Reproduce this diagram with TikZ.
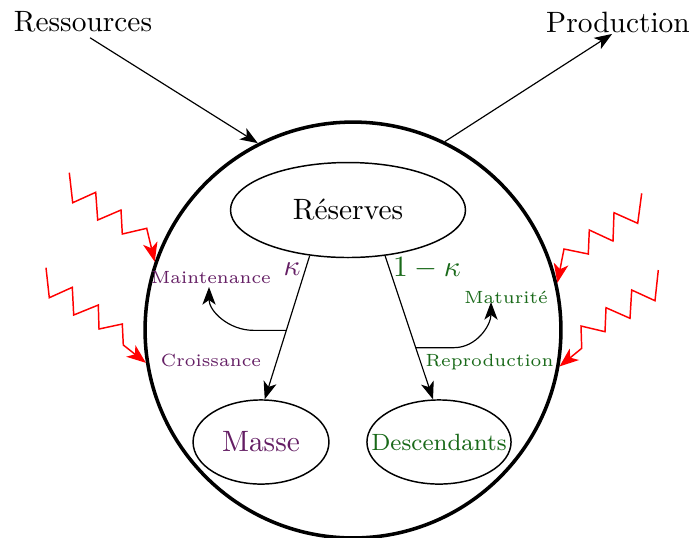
\documentclass[tikz,border=0pt]{standalone}
\usetikzlibrary{arrows.meta,calc,shapes.geometric}
\definecolor{kpurple}{RGB}{100,30,100}
\definecolor{kgreen}{RGB}{25,105,25}
\tikzset{
  flow/.style={line width=0.4pt,-{Stealth[length=6pt,width=4.5pt,inset=1.6pt]}},
  zig/.style={red,line width=0.5pt,-{Stealth[length=6.5pt,width=5pt,inset=1.8pt]}},
  compart/.style={draw,ellipse,line width=0.5pt,inner sep=0pt},
  tinylab/.style={font=\fontsize{6}{7}\selectfont,anchor=base,inner sep=0pt},
}
\begin{document}
\begin{tikzpicture}[x=0.34pt,y=-0.34pt]
\useasboundingbox (0,0) rectangle (690,537);
% organism
\node[draw,circle,line width=1.2pt,minimum size=141.4pt,inner sep=0pt] (cell) at (353,330) {};
\node[compart,minimum width=79.9pt,minimum height=32.3pt,
      label={center:Réserves}] (res) at (348,210) {};
\node[compart,minimum width=46.2pt,minimum height=28.6pt,
      label={[text=kpurple]center:Masse}] (masse) at (261,442) {};
\node[compart,minimum width=49pt,minimum height=28.6pt,
      label={[text=kgreen,font=\footnotesize]center:Descendants}] (desc) at (439,442) {};
% external
\node (ress) at (83,22) {Ressources};
\node (prod) at (618,22) {Production};
\draw[flow] ([xshift=2.4pt,yshift=1.7pt]ress.south) -- (cell.117);
\draw[flow] (cell.64) -- ([xshift=-2pt,yshift=3pt]prod.south);
% kappa rule
\draw[flow] (res.230) -- (masse.85);
\draw[flow] (res.309) -- (desc.98);
\coordinate (m1) at ($(res.230)!0.52!(masse.85)$);
\coordinate (m2) at ($(res.309)!0.64!(desc.98)$);
\coordinate (maintip) at (209,287);
\coordinate (matip) at (491,302);
\draw[flow] (m1) -- ++(-33,0) to[out=180,in=-90] (maintip);
\draw[flow] (m2) -- ++(38,0) to[out=0,in=-90] (matip);
% labels
\node[anchor=base,inner sep=0pt,text=kpurple] (kap) at (292,275) {$\kappa$};
\node[anchor=base,inner sep=0pt,text=kgreen] (omk) at (427,276) {$1-\kappa$};
\node[tinylab,text=kpurple] (maint) at (211,283) {Maintenance};
\node[tinylab,text=kpurple] (crois) at (211,366) {Croissance};
\node[tinylab,text=kgreen] (matur) at (506,303) {Maturité};
\node[tinylab,text=kgreen] (repro) at (489.5,366.5) {Reproduction};
% stresses
\draw[zig] (69.3,172.7) -- (72.7,202.7) -- (95.7,192.3) -- (97.7,220) -- (121,210) -- (122.3,234) -- (146.7,228.3) -- (cell.161);
\draw[zig] (46,267.7) -- (49.3,297.7) -- (72.3,287.3) -- (73.7,315) -- (98.3,305) -- (99,329) -- (122.3,324) -- (123.3,345) -- (cell.189);
\draw[zig] (641.7,193.3) -- (637.7,223.3) -- (614,212.7) -- (613,241) -- (589.3,230) -- (588.3,254) -- (564,249) -- (cell.13);
\draw[zig] (658.3,270) -- (655,300.7) -- (631.7,290) -- (630,318.3) -- (606,307.7) -- (605,331.7) -- (581,326) -- (581.7,348.3) -- (cell.350);
\end{tikzpicture}
\end{document}
